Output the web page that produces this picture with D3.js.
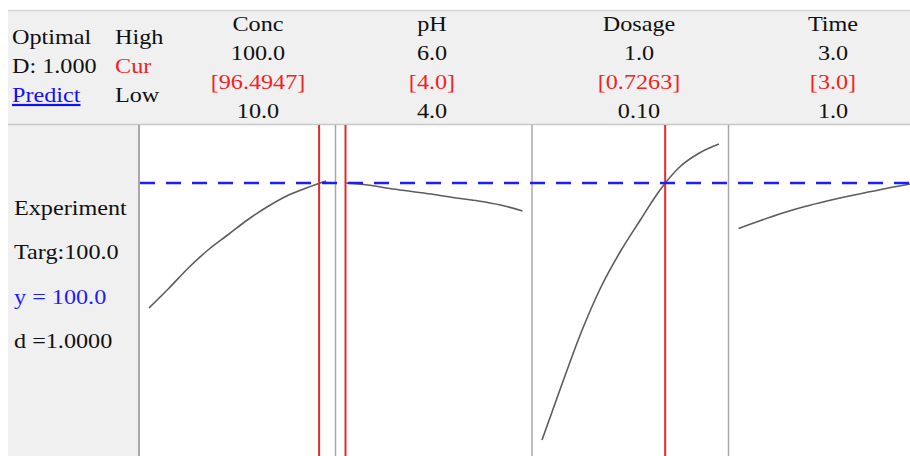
<!DOCTYPE html>
<html>
<head>
<meta charset="utf-8">
<script src="https://cdn.jsdelivr.net/npm/d3@7"></script>
<style>
  html, body { margin: 0; padding: 0; background: #fff; }
  svg { display: block; }
  text { font-family: "Liberation Serif", "Times New Roman", serif; }
</style>
</head>
<body>
<script>
// factor header rows
const factors = ['Conc', 'pH', 'Dosage', 'Time'];
const highLabels = ['100.0', '6.0', '1.0', '3.0'];
const curLabels = ['[96.4947]', '[4.0]', '[0.7263]', '[3.0]'];
const lowLabels = ['10.0', '4.0', '0.10', '1.0'];
const lowVals = [10, 4, 0.1, 1];
const highVals = [100, 6, 1, 3];
const curVals = [96.4947, 4.0, 0.7263, 3.0];

// predicted response along each factor
const concX = [10, 20, 30, 40, 50, 60, 70, 80, 90, 100];
const concY = [75.0, 78.9, 83.0, 86.6, 89.6, 92.6, 95.2, 97.4, 99.0, 100.4];
const phX = [4.0, 4.25, 4.5, 4.75, 5.0, 5.25, 5.5, 5.75, 6.0];
const phY = [100.0, 99.6, 98.9, 98.3, 97.7, 97.0, 96.4, 95.6, 94.4];
const doseX = [0.1, 0.2, 0.3, 0.4, 0.5, 0.6, 0.7, 0.8, 0.9, 1.0];
const doseY = [48.6, 59.6, 70.2, 79.2, 86.4, 92.6, 98.6, 103.2, 106.0, 107.8];
const timeX = [1.0, 1.25, 1.5, 1.75, 2.0, 2.25, 2.5, 2.75, 3.0];
const timeY = [90.9, 92.5, 94.0, 95.3, 96.4, 97.4, 98.3, 99.2, 100.0];

const target = 100.0;
const curves = [[concX, concY], [phX, phY], [doseX, doseY], [timeX, timeY]];

// layout
const W = 910, H = 456;
const headTop = 10, headBottom = 125;
const plotLeft = 139, panelW = 196.5;
const headerX = [258, 432, 639, 833];
const rowY = [31, 60, 89, 118];
const stretch = 1.1; // the source text is a bit wider than Times

const svg = d3.select('body').append('svg')
  .attr('width', W)
  .attr('height', H)
  .attr('xmlns', 'http://www.w3.org/2000/svg');

// grey header and left column
svg.append('rect')
  .attr('x', 8).attr('y', headTop)
  .attr('width', W - 8).attr('height', headBottom - headTop)
  .attr('fill', '#f0f0f0');
svg.append('rect')
  .attr('x', 8).attr('y', headBottom)
  .attr('width', plotLeft - 8).attr('height', H - headBottom)
  .attr('fill', '#f0f0f0');
svg.append('line')
  .attr('x1', 8).attr('x2', W).attr('y1', headTop + 0.5).attr('y2', headTop + 0.5)
  .attr('stroke', '#d6d6d6').attr('stroke-width', 1.5);
svg.append('line')
  .attr('x1', 8).attr('x2', W).attr('y1', headBottom - 0.5).attr('y2', headBottom - 0.5)
  .attr('stroke', '#c8c8c8').attr('stroke-width', 1.5);

const yScale = d3.scaleLinear().domain([45, 110]).range([458, 133]);

const line = d3.line()
  .x(d => d[0])
  .y(d => yScale(d[1]))
  .curve(d3.curveMonotoneX);

// panels
factors.forEach((f, i) => {
  const left = plotLeft + i * panelW;
  const x = d3.scaleLinear()
    .domain([lowVals[i], highVals[i]])
    .range([left + 10, left + 187]);

  svg.append('line')
    .attr('x1', left).attr('x2', left)
    .attr('y1', headBottom).attr('y2', H)
    .attr('stroke', '#a8a8a8').attr('stroke-width', i === 0 ? 2 : 1.5);

  const [xs, ys] = curves[i];
  svg.append('path')
    .datum(xs.map((v, k) => [x(v), ys[k]]))
    .attr('fill', 'none')
    .attr('stroke', '#5c5c5c')
    .attr('stroke-width', 1.6)
    .attr('d', line);

  svg.append('line')
    .attr('x1', x(curVals[i])).attr('x2', x(curVals[i]))
    .attr('y1', headBottom).attr('y2', H)
    .attr('stroke', '#e42a2a').attr('stroke-width', 2);
});

// target line
svg.append('line')
  .attr('x1', plotLeft + 1).attr('x2', W)
  .attr('y1', yScale(target)).attr('y2', yScale(target))
  .attr('stroke', '#1c1cff')
  .attr('stroke-width', 2.5)
  .attr('stroke-dasharray', '15,11');

// header text
const head = svg.append('g').attr('font-size', '22px').attr('fill', '#111');
const rows = [factors, highLabels, curLabels, lowLabels];
rows.forEach((labels, r) => {
  head.selectAll(null)
    .data(labels)
    .enter().append('text')
    .attr('transform', (d, i) => `translate(${headerX[i]},${rowY[r]}) scale(${stretch},1)`)
    .attr('text-anchor', 'middle')
    .attr('fill', r === 2 ? '#f02424' : '#111')
    .text(d => d);
});

const leftText = [
  { t: 'Optimal', x: 12, y: 44, c: '#111' },
  { t: 'D: 1.000', x: 12, y: 73, c: '#111' },
  { t: 'Predict', x: 12, y: 102, c: '#1010ff', u: true },
  { t: 'High', x: 115, y: 44, c: '#111' },
  { t: 'Cur', x: 115, y: 73, c: '#f02424' },
  { t: 'Low', x: 115, y: 102, c: '#111' },
  { t: 'Experiment', x: 14, y: 215, c: '#111' },
  { t: 'Targ:100.0', x: 14, y: 259, c: '#111' },
  { t: 'y = 100.0', x: 14, y: 304, c: '#1c1cff' },
  { t: 'd =1.0000', x: 14, y: 348, c: '#111' }
];
head.selectAll(null)
  .data(leftText)
  .enter().append('text')
  .attr('transform', d => `translate(${d.x},${d.y}) scale(${stretch},1)`)
  .attr('fill', d => d.c)
  .attr('text-decoration', d => d.u ? 'underline' : null)
  .text(d => d.t);
</script>
</body>
</html>
